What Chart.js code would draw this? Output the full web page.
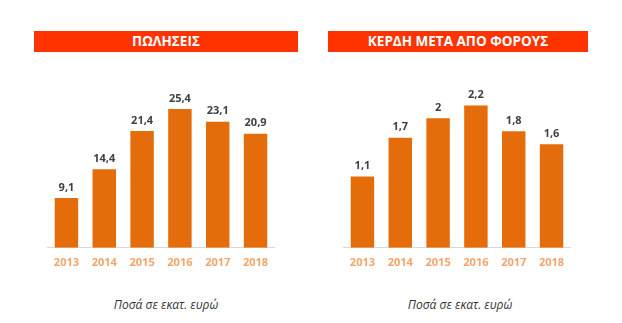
<!DOCTYPE html>
<html>
<head>
<meta charset="utf-8">
<script src="https://cdn.jsdelivr.net/npm/chart.js@4"></script>
<style>
  body { margin: 0; background: #fff; width: 622px; height: 323px; position: relative; overflow: hidden; font-family: "Open Sans", sans-serif; }
  .banner { position: absolute; top: 31px; height: 21px; background: #FF3300; color: #fff; font-weight: bold; font-size: 13.5px; line-height: 21px; text-align: center; }
  .caption { position: absolute; font-style: italic; font-size: 12px; color: #333; transform: translateX(-50%); white-space: nowrap; }
  canvas { position: absolute; }
</style>
</head>
<body>
<div class="banner" style="left:34px; width:264px;">ΠΩΛΗΣΕΙΣ</div>
<div class="banner" style="left:328px; width:260px;">ΚΕΡΔΗ ΜΕΤΑ ΑΠΟ ΦΟΡΟΥΣ</div>
<div style="position:absolute; left:46px; top:60px; width:230px; height:217px;"><canvas id="graficoPoliseis"></canvas></div>
<div style="position:absolute; left:342px; top:60px; width:230px; height:217px;"><canvas id="graficoKerdi"></canvas></div>
<div class="caption" style="left:166px; top:296px;">Ποσά σε εκατ. ευρώ</div>
<div class="caption" style="left:460px; top:296px;">Ποσά σε εκατ. ευρώ</div>
<script>
const eti = ['2013', '2014', '2015', '2016', '2017', '2018'];
const poliseis = [9.1, 14.4, 21.4, 25.4, 23.1, 20.9];
const kerdi = [1.1, 1.7, 2, 2.2, 1.8, 1.6];

const corBarra = '#E46C0A';
const corEixo = '#F2A46A';
const corValor = '#404040';

// escreve o valor em cima de cada barra
const rotulosValor = {
    id: 'rotulosValor',
    afterDatasetsDraw(chart) {
        const ctx = chart.ctx;
        const ds = chart.data.datasets[0];
        ctx.save();
        ctx.font = 'bold 11px "Open Sans", sans-serif';
        ctx.fillStyle = corValor;
        ctx.textAlign = 'center';
        ctx.textBaseline = 'bottom';
        chart.getDatasetMeta(0).data.forEach((bar, i) => {
            ctx.fillText(String(ds.data[i]).replace('.', ','), bar.x, bar.y - 5);
        });
        ctx.restore();
    }
};

const opcoes = (maxY, topo) => ({
    responsive: true,
    maintainAspectRatio: false,
    animation: false,
    layout: { padding: { top: topo, left: 0, right: 0, bottom: 0 } },
    plugins: { legend: { display: false }, tooltip: { enabled: false } },
    scales: {
        x: {
            grid: { display: false, drawTicks: false },
            border: { display: true, color: '#D9D9D9', width: 1 },
            ticks: { color: corEixo, font: { family: '"Open Sans", sans-serif', size: 11, weight: 'bold' }, padding: 8 }
        },
        y: { display: false, min: 0, max: maxY }
    }
});

const montar = (id, dados, maxY, topo) => new Chart(document.getElementById(id), {
    type: 'bar',
    data: {
        labels: eti,
        datasets: [{ data: dados, backgroundColor: corBarra, categoryPercentage: 1, barPercentage: 0.62 }]
    },
    options: opcoes(maxY, topo),
    plugins: [rotulosValor]
});

montar('graficoPoliseis', poliseis, 30, 24);
montar('graficoKerdi', kerdi, 2.5, 26);
</script>
</body>
</html>
